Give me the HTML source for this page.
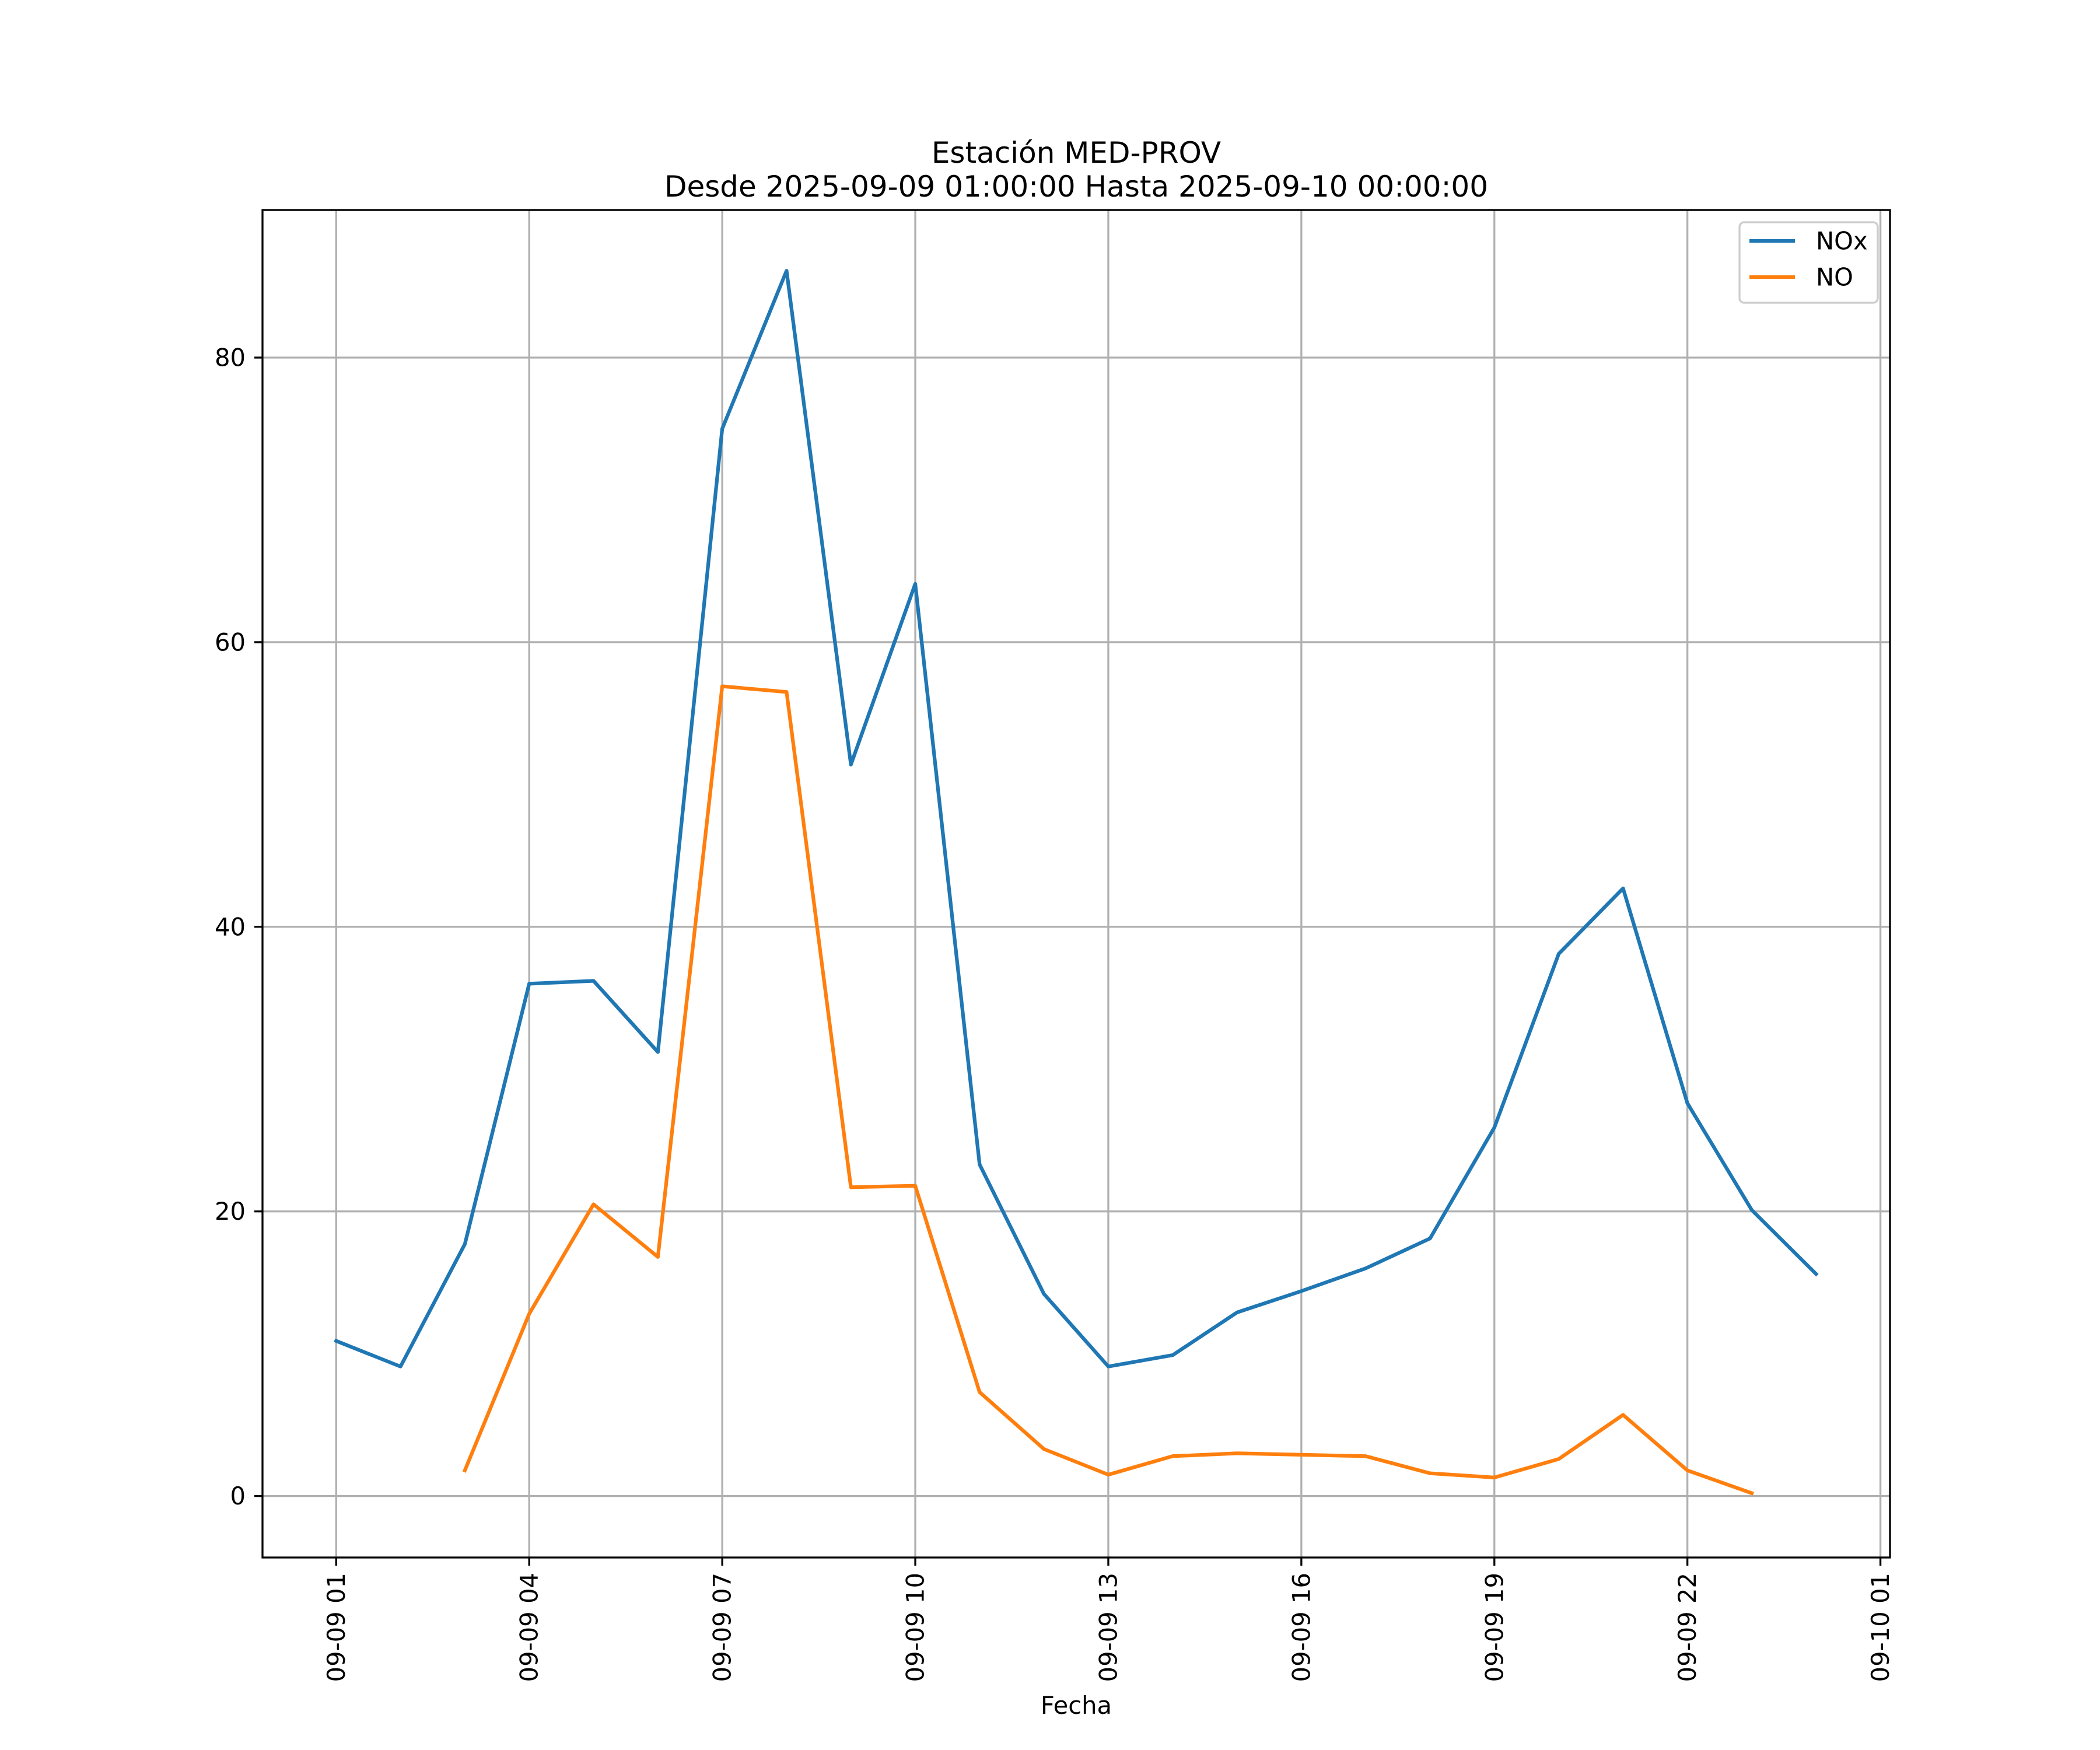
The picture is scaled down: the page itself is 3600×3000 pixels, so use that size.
<!DOCTYPE html>
<html><head><meta charset="utf-8"><style>html,body{margin:0;padding:0;background:#fff}svg{display:block}text{font-family:"DejaVu Sans","Liberation Sans",sans-serif;fill:#000}</style></head>
<body>
<svg id="chart" xmlns="http://www.w3.org/2000/svg" width="3600" height="3000" viewBox="0 0 3600 3000">
<rect width="3600" height="3000" fill="#fff"/>
<text x="1845" y="279" font-size="50" text-anchor="middle">Estación MED-PROV</text>
<text x="1845" y="337" font-size="50" text-anchor="middle">Desde 2025-09-09 01:00:00 Hasta 2025-09-10 00:00:00</text>
<g id="grid"></g><g id="series"></g><g id="axes"></g>
<text x="1845" y="2938" font-size="41.7" text-anchor="middle">Fecha</text>
</svg>
<script>
const hours = [1,2,3,4,5,6,7,8,9,10,11,12,13,14,15,16,17,18,19,20,21,22,23,24];
const noxValues = [10.9,9.1,17.7,36,36.2,31.2,75,86.1,51.4,64.1,23.3,14.2,9.1,9.9,12.9,14.4,16,18.1,25.9,38.1,42.7,27.6,20.1,15.6];
const noValues = [null,null,1.8,12.8,20.5,16.8,56.9,56.5,21.7,21.8,7.3,3.3,1.5,2.8,3,2.9,2.8,1.6,1.3,2.6,5.7,1.8,0.2,null];
const yTicks = [0,20,40,60,80];
const xTickHours = [1,4,7,10,13,16,19,22,25];
const xTickLabels = ["09-09 01","09-09 04","09-09 07","09-09 10","09-09 13","09-09 16","09-09 19","09-09 22","09-10 01"];
const L=450,R=3240,T=360,B=2670;
const xs=h=>576.3+(h-1)*(3223.6-576.3)/24;
const ys=v=>2564.6-v*(2564.6-613)/80;
const NS="http://www.w3.org/2000/svg";
function mk(t,a,p){const e=document.createElementNS(NS,t);for(const k in a)e.setAttribute(k,a[k]);p.appendChild(e);return e;}
const grid=document.getElementById('grid'),axes=document.getElementById('axes'),ser=document.getElementById('series');
yTicks.forEach(v=>{const y=ys(v);
 const g=mk('line',{x1:L,x2:R,y1:y,y2:y,stroke:'#b0b0b0','stroke-width':3.3},grid);
 
 
 mk('line',{x1:L-14,x2:L,y1:y,y2:y,stroke:'#000','stroke-width':3.3},axes);
 const t=mk('text',{x:L-29,y:y,'font-size':41.7,'text-anchor':'end','dominant-baseline':'central'},axes);t.textContent=v;
 
 
});
xTickHours.forEach((h,i)=>{const x=xs(h);
 const g=mk('line',{x1:x,x2:x,y1:T,y2:B,stroke:'#b0b0b0','stroke-width':3.3},grid);
 
 
 mk('line',{x1:x,x2:x,y1:B,y2:B+14,stroke:'#000','stroke-width':3.3},axes);
 const t=mk('text',{x:0,y:0,'font-size':41.7,'text-anchor':'end','dominant-baseline':'central',transform:`translate(${x},${B+26}) rotate(-90)`},axes);t.textContent=xTickLabels[i];
 
 
});
const fr=mk('rect',{x:L,y:T,width:R-L,height:B-T,fill:'none',stroke:'#000','stroke-width':3.3},axes);


function line(vals,color,name){let d='',pen=false;vals.forEach((v,i)=>{if(v==null){pen=false;return;}d+=(pen?'L':'M')+xs(hours[i]).toFixed(1)+' '+ys(v).toFixed(1)+' ';pen=true;});
 const p=mk('path',{d:d,fill:'none',stroke:color,'stroke-width':6.25,'stroke-linejoin':'round','stroke-linecap':'square'},ser);
 
 }
line(noxValues,'#1f77b4','nox-line');
line(noValues,'#ff7f0e','no-line');
const lg=mk('g',{},axes);


mk('rect',{x:2982,y:381,width:237,height:138,rx:8,fill:'#fff','fill-opacity':0.8,stroke:'#ccc','stroke-width':3.3},lg);
[['NOx','#1f77b4',413],['NO','#ff7f0e',475]].forEach(([n,c,y])=>{
 mk('line',{x1:2999,x2:3077,y1:y,y2:y,stroke:c,'stroke-width':6.25},lg);
 const t=mk('text',{x:3113,y:y,'font-size':41.7,'dominant-baseline':'central'},lg);t.textContent=n;
 
 
});
</script>
</body></html>
